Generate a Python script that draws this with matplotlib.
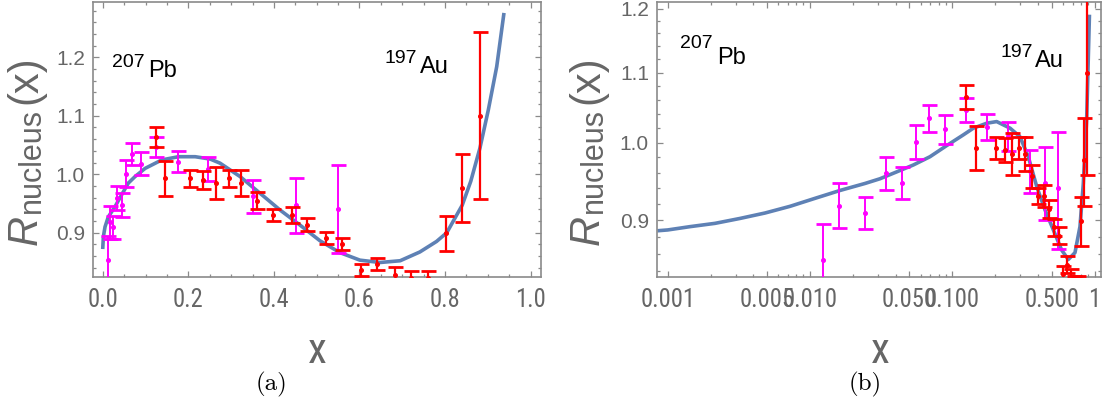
import matplotlib
matplotlib.use('Agg')
import matplotlib.pyplot as plt
from matplotlib import font_manager as fm
from matplotlib.ticker import FixedLocator, FixedFormatter, NullFormatter

# ---------------- data ----------------
# fitted curve, panel (a) (linear x)
curve_a_x = [0.0, 0.0015, 0.0054, 0.013, 0.0287, 0.044, 0.060, 0.0755, 0.099, 0.138,
             0.177, 0.216, 0.251, 0.274, 0.321, 0.3675, 0.414, 0.461, 0.508, 0.554,
             0.601, 0.648, 0.695, 0.741, 0.780, 0.804, 0.820, 0.840, 0.860, 0.8815,
             0.901, 0.9206, 0.9376]
curve_a_y = [0.872, 0.893, 0.910, 0.927, 0.9445, 0.9646, 0.985, 0.996, 1.010, 1.0245,
             1.030, 1.030, 1.026, 1.019, 0.996, 0.9675, 0.939, 0.913, 0.886, 0.866,
             0.853, 0.849, 0.852, 0.867, 0.885, 0.900, 0.921, 0.947, 0.988, 1.045,
             1.110, 1.184, 1.276]
# fitted curve, panel (b) (log x)
curve_b_x = [0.000845, 0.001, 0.001435, 0.00215, 0.00322, 0.00483, 0.00724, 0.01084,
             0.01626, 0.0244, 0.031, 0.0407, 0.0532, 0.0697, 0.0914, 0.1194, 0.1406,
             0.1746, 0.205, 0.2547, 0.299, 0.342, 0.392, 0.448, 0.513, 0.587, 0.653,
             0.728, 0.789, 0.833, 0.879, 0.920]
curve_b_y = [0.887, 0.888, 0.892, 0.896, 0.902, 0.9087, 0.917, 0.927,
             0.937, 0.946, 0.952, 0.961, 0.970, 0.981, 0.996, 1.0105, 1.0198,
             1.0267, 1.029, 1.0198, 1.008, 0.981, 0.942, 0.9126, 0.888, 0.864, 0.853,
             0.861, 0.892, 0.946, 1.031, 1.190]

# 207Pb data (magenta)
pb_x = [0.0123, 0.0161, 0.0244, 0.034, 0.044, 0.0553, 0.069, 0.089, 0.125, 0.175,
        0.245, 0.35, 0.451, 0.55]
pb_y = [0.853, 0.918, 0.909, 0.959, 0.947, 1.001, 1.034, 1.018, 1.046, 1.021,
        1.009, 0.962, 0.947, 0.940]
pb_err = [0.042, 0.028, 0.020, 0.021, 0.021, 0.023, 0.019, 0.020, 0.017, 0.018,
          0.020, 0.028, 0.047, 0.075]

# 197Au data (red)
au_x = [0.124, 0.146, 0.204, 0.235, 0.264, 0.296, 0.322, 0.361, 0.399, 0.442, 0.478,
        0.522, 0.558, 0.603, 0.642, 0.683, 0.720, 0.761, 0.801, 0.839, 0.882]
au_y = [1.064, 0.993, 0.993, 0.990, 0.985, 0.993, 0.985, 0.955, 0.930, 0.930, 0.914,
        0.891, 0.881, 0.836, 0.847, 0.828, 0.822, 0.822, 0.899, 0.976, 1.100]
au_err = [0.017, 0.030, 0.015, 0.016, 0.028, 0.015, 0.023, 0.015, 0.010, 0.014, 0.011,
          0.010, 0.010, 0.010, 0.010, 0.014, 0.012, 0.012, 0.030, 0.058, 0.143]

# ticks
lin_xticks = [0.0, 0.2, 0.4, 0.6, 0.8, 1.0]
lin_xticklabels = ['0.0', '0.2', '0.4', '0.6', '0.8', '1.0']
y_ticks = [0.9, 1.0, 1.1, 1.2]
y_ticklabels = ['0.9', '1.0', '1.1', '1.2']
log_xticks = [0.001, 0.005, 0.01, 0.05, 0.1, 0.5, 1.0]
log_xticklabels = ['0.001', '0.005', '0.010', '0.050', '0.100', '0.500', '1']

# ---------------- style ----------------
CURVE = '#5E81B5'
MAG = '#FF00FF'
RED = '#FF0000'
FRAME = '#8a8a8a'
TXT = '#666666'

installed = {f.name for f in fm.fontManager.ttflist}
NARROW_FONT = 'Liberation Sans'
for cand in ['Liberation Sans Narrow', 'Arial Narrow', 'Arimo Narrow',
             'Roboto Condensed', 'Archivo Narrow', 'Asap Condensed',
             'Barlow Semi Condensed']:
    if cand in installed:
        NARROW_FONT = cand
        break
NARROW = [NARROW_FONT, 'Liberation Sans', 'DejaVu Sans']

W, H = 1110, 415
fig = plt.figure(figsize=(W / 100, H / 100), dpi=100)
renderer = fig.canvas.get_renderer()


def fit_size(s, family, target_w, base=20.0):
    t = fig.text(0, 0, s, family=family, fontsize=base)
    w = t.get_window_extent(renderer).width
    t.remove()
    return base * target_w / w


XTICK_SIZE = fit_size('0.001', NARROW, 55.0)
XLAB_SIZE = XTICK_SIZE * 1.75


def box(l, r, t, b):
    return [l / W, 1 - b / H, (r - l) / W, (b - t) / H]


axA = fig.add_axes(box(93.3, 540.7, 2.0, 276.7))
axB = fig.add_axes(box(657.3, 1101.0, 2.0, 276.7))


def style(ax):
    for s in ax.spines.values():
        s.set_color(FRAME)
        s.set_linewidth(1.2)
    ax.tick_params(which='both', direction='in', top=True, right=True,
                   color=FRAME, width=0.9)
    ax.tick_params(which='major', length=4.5)
    ax.tick_params(which='minor', length=2.5)
    ax.tick_params(axis='x', which='major', pad=8, labelcolor=TXT)
    ax.tick_params(axis='y', which='major', pad=6, labelcolor=TXT)


def draw_data(ax, cx, cy):
    ax.plot(cx, cy, color=CURVE, lw=2.6, zorder=2, solid_capstyle='butt')
    ax.errorbar(pb_x, pb_y, yerr=pb_err, fmt='o', color=MAG, ms=2.6,
                elinewidth=1.4, capsize=5.4, capthick=2.0, zorder=3)
    ax.errorbar(au_x, au_y, yerr=au_err, fmt='o', color=RED, ms=2.6,
                elinewidth=1.6, capsize=5.4, capthick=2.0, zorder=4)


# ---- panel (a)
draw_data(axA, curve_a_x, curve_a_y)
axA.set_xlim(-0.022, 1.0234)
axA.set_ylim(0.8247, 1.2947)
axA.xaxis.set_major_locator(FixedLocator(lin_xticks))
axA.xaxis.set_major_formatter(FixedFormatter(lin_xticklabels))
axA.xaxis.set_minor_locator(FixedLocator([i * 0.05 for i in range(21)]))
axA.yaxis.set_major_locator(FixedLocator(y_ticks))
axA.yaxis.set_major_formatter(FixedFormatter(y_ticklabels))
axA.yaxis.set_minor_locator(FixedLocator([0.82 + i * 0.02 for i in range(25)]))
style(axA)

# ---- panel (b)
draw_data(axB, curve_b_x, curve_b_y)
axB.set_xscale('log')
axB.set_yscale('log')
axB.set_xlim(0.000845, 1.109)
axB.set_ylim(0.8333, 1.2107)
minors = []
for dec in [0.001, 0.01, 0.1]:
    for k in range(1, 10):
        minors.append(dec * k)
axB.xaxis.set_major_locator(FixedLocator(log_xticks))
axB.xaxis.set_major_formatter(FixedFormatter(log_xticklabels))
axB.xaxis.set_minor_locator(FixedLocator(minors))
axB.xaxis.set_minor_formatter(NullFormatter())
axB.yaxis.set_major_locator(FixedLocator(y_ticks))
axB.yaxis.set_major_formatter(FixedFormatter(y_ticklabels))
axB.yaxis.set_minor_locator(FixedLocator([0.82 + i * 0.02 for i in range(21)]))
axB.yaxis.set_minor_formatter(NullFormatter())
style(axB)

for ax in (axA, axB):
    for lab in ax.get_xticklabels():
        lab.set_fontfamily(NARROW)
        lab.set_fontsize(XTICK_SIZE)
    for lab in ax.get_yticklabels():
        lab.set_fontfamily('Liberation Sans')
        lab.set_fontsize(15)


def ftext(px, py, s, **kw):
    return fig.text(px / W, 1 - py / H, s, **kw)


# nucleus labels
lab_kw = dict(family='Liberation Sans', color='black', ha='left', va='baseline')
ftext(111.7, 66.7, '207', fontsize=14, **lab_kw)
ftext(148.0, 76.7, 'Pb', fontsize=17, **lab_kw)
ftext(385.0, 63.3, '197', fontsize=14, **lab_kw)
ftext(420.0, 73.3, 'Au', fontsize=17, **lab_kw)
ftext(680.0, 48.3, '207', fontsize=14, **lab_kw)
ftext(716.7, 64.3, 'Pb', fontsize=17, **lab_kw)
ftext(1000.0, 56.7, '197', fontsize=14, **lab_kw)
ftext(1035.0, 66.7, 'Au', fontsize=17, **lab_kw)

# axis labels
for xc in (317, 880):
    ftext(xc, 351, 'x', family=NARROW, fontsize=XLAB_SIZE, color=TXT,
          ha='center', va='center')

# y labels built from pieces: R (italic), nucleus (subscript), (x)
rot_kw = dict(rotation=90, rotation_mode='anchor', ha='left', va='baseline',
              color=TXT)
for dx in (0, 562):
    ftext(37 + dx, 245, 'R', family='Liberation Sans', style='italic',
          fontsize=30, **rot_kw)
    ftext(40 + dx, 213, 'nucleus', family='Liberation Sans', fontsize=22,
          **rot_kw)
    ftext(36 + dx, 104, '(x)', family='Liberation Sans', fontsize=30,
          **rot_kw)

# captions
ftext(272, 384, '(a)', family='cmr10', fontsize=18, color='black',
      ha='center', va='center')
ftext(865, 384, '(b)', family='cmr10', fontsize=18, color='black',
      ha='center', va='center')

fig.savefig('out.png', dpi=100)
